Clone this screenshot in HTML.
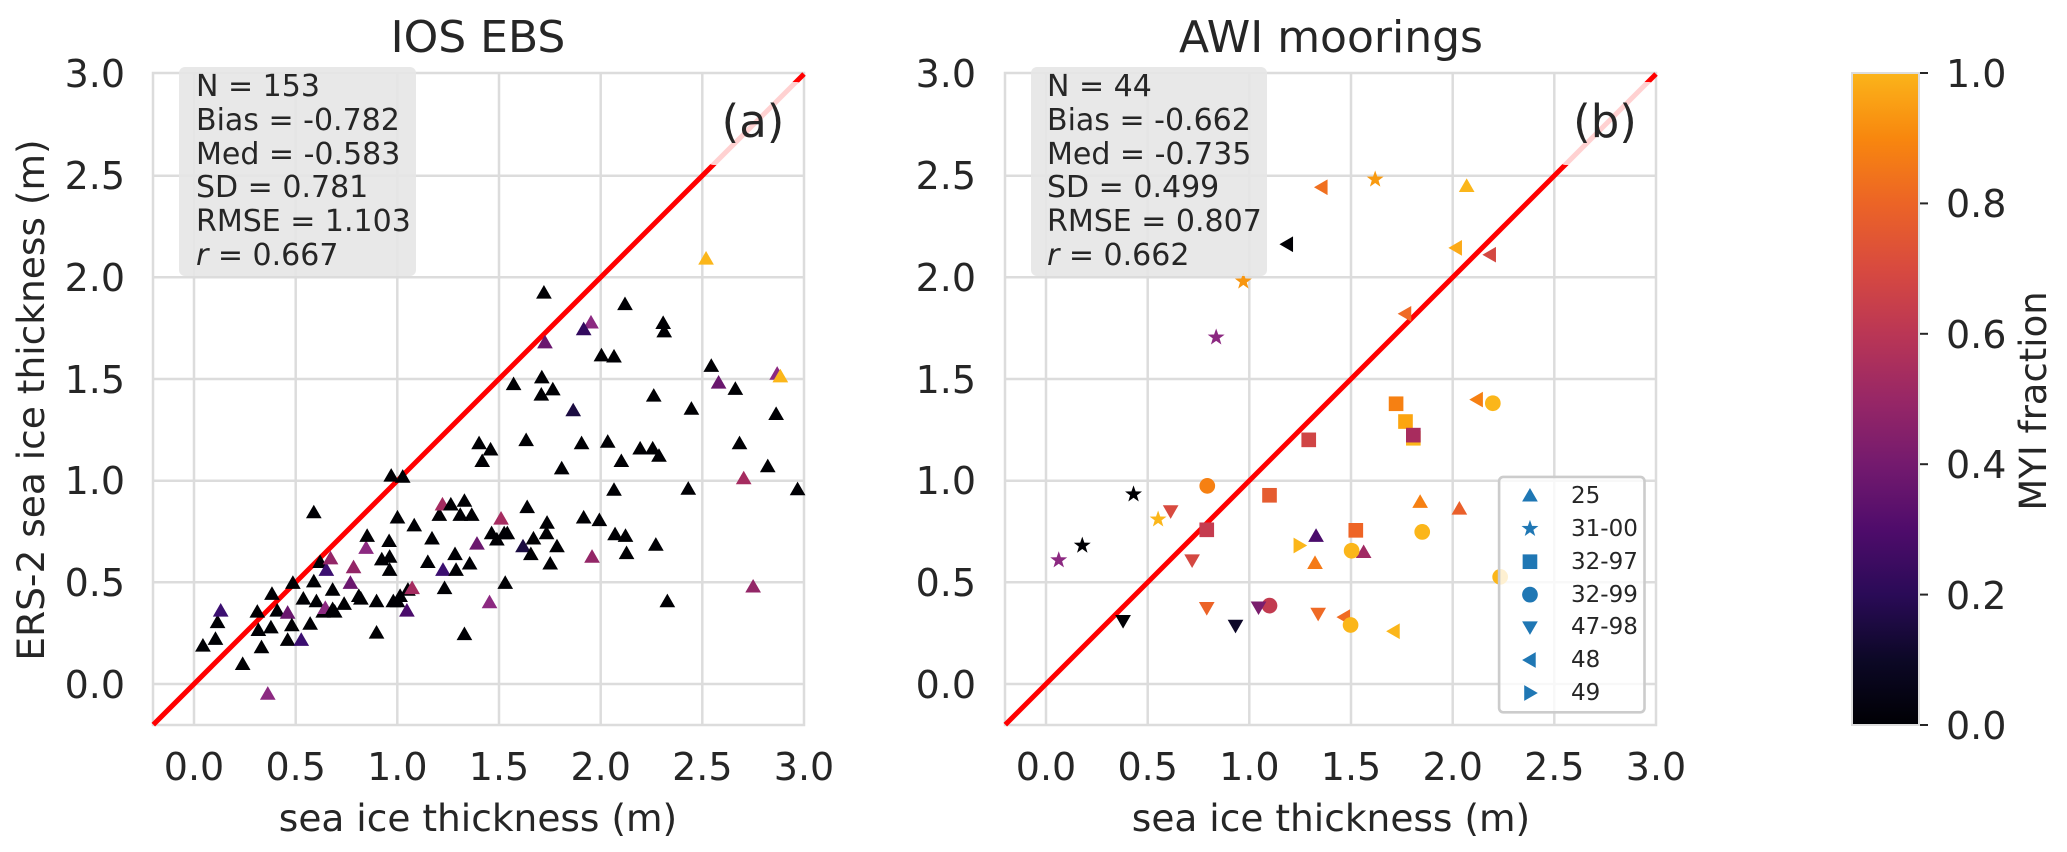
<!DOCTYPE html>
<html><head><meta charset="utf-8"><style>
html,body{margin:0;padding:0;background:#fff;}
svg{display:block;font-family:"DejaVu Sans","Liberation Sans",sans-serif;fill:#262626;}
</style></head><body>
<svg width="2067" height="852" viewBox="0 0 2067 852" xmlns="http://www.w3.org/2000/svg">
<defs>
<path id="tu" d="M0,-15 L15,11 L-15,11 Z"/>
<path id="td" d="M0,15 L15,-11 L-15,-11 Z"/>
<path id="tl" d="M-15,0 L11,-15 L11,15 Z"/>
<path id="tr" d="M15,0 L-11,-15 L-11,15 Z"/>
<rect id="sq" x="-14" y="-14" width="28" height="28"/>
<circle id="ci" r="15"/>
<path id="st" d="M0,-17 L4,-5.5 L16.2,-5.3 L6.5,2.1 L10,13.8 L0,6.8 L-10,13.8 L-6.5,2.1 L-16.2,-5.3 L-4,-5.5 Z"/>
<linearGradient id="cb" x1="0" y1="1" x2="0" y2="0">
<stop offset="0" stop-color="#000004"/><stop offset="0.1" stop-color="#0c0826"/>
<stop offset="0.2" stop-color="#2a0b57"/><stop offset="0.3" stop-color="#4f0c6b"/>
<stop offset="0.4" stop-color="#741a6e"/><stop offset="0.5" stop-color="#982766"/>
<stop offset="0.6" stop-color="#ba3655"/><stop offset="0.7" stop-color="#d84a3f"/>
<stop offset="0.8" stop-color="#ec6426"/><stop offset="0.9" stop-color="#f8870e"/>
<stop offset="1" stop-color="#fbb41a"/>
</linearGradient>
</defs>

<!-- LEFT PLOT -->
<g stroke="#dcdcdc" stroke-width="2.5">
<line x1="194" y1="73" x2="194" y2="725"/><line x1="295.7" y1="73" x2="295.7" y2="725"/><line x1="397.3" y1="73" x2="397.3" y2="725"/><line x1="499" y1="73" x2="499" y2="725"/><line x1="600.7" y1="73" x2="600.7" y2="725"/><line x1="702.3" y1="73" x2="702.3" y2="725"/>
<line x1="153" y1="684" x2="804" y2="684"/><line x1="153" y1="582.3" x2="804" y2="582.3"/><line x1="153" y1="480.7" x2="804" y2="480.7"/><line x1="153" y1="379" x2="804" y2="379"/><line x1="153" y1="277.3" x2="804" y2="277.3"/><line x1="153" y1="175.7" x2="804" y2="175.7"/>
<rect x="153" y="73" width="651" height="652" fill="none"/>
</g>
<line x1="153.3" y1="724.7" x2="804" y2="74" stroke="#ff0000" stroke-width="5"/>
<g transform="scale(0.523)" fill="#000004">
<use href="#tu" x="388" y="1235"/><use href="#tu" x="412" y="1222"/><use href="#tu" x="416" y="1190"/><use href="#tu" x="422" y="1168" fill="#3b0f70"/><use href="#tu" x="464" y="1270"/><use href="#tu" x="492" y="1170"/><use href="#tu" x="494" y="1205"/><use href="#tu" x="500" y="1238"/><use href="#tu" x="518" y="1200"/><use href="#tu" x="520" y="1136"/><use href="#tu" x="530" y="1168"/><use href="#tu" x="512" y="1327" fill="#8c2981"/><use href="#tu" x="550" y="1224"/><use href="#tu" x="550" y="1172" fill="#6a176e"/><use href="#tu" x="558" y="1196"/><use href="#tu" x="560" y="1115"/><use href="#tu" x="576" y="1224" fill="#3b0f70"/><use href="#tu" x="580" y="1145"/><use href="#tu" x="593" y="1193"/><use href="#tu" x="600" y="1112"/><use href="#tu" x="600" y="980"/><use href="#tu" x="605" y="1150"/><use href="#tu" x="612" y="1075"/><use href="#tu" x="618" y="1170"/><use href="#tu" x="622" y="1163" fill="#8c2981"/><use href="#tu" x="624" y="1090" fill="#3b0f70"/><use href="#tu" x="632" y="1068" fill="#932667"/><use href="#tu" x="636" y="1165"/><use href="#tu" x="636" y="1128"/><use href="#tu" x="640" y="1170"/><use href="#tu" x="658" y="1155"/><use href="#tu" x="670" y="1115" fill="#6a176e"/><use href="#tu" x="676" y="1085" fill="#932667"/><use href="#tu" x="686" y="1140"/><use href="#tu" x="690" y="1145"/><use href="#tu" x="700" y="1048" fill="#8c2981"/><use href="#tu" x="702" y="1025"/><use href="#tu" x="720" y="1150"/><use href="#tu" x="720" y="1210"/><use href="#tu" x="730" y="1070"/><use href="#tu" x="744" y="1035"/><use href="#tu" x="745" y="1065"/><use href="#tu" x="745" y="1090"/><use href="#tu" x="752" y="1150"/><use href="#tu" x="760" y="1150"/><use href="#tu" x="765" y="1140"/><use href="#tu" x="748" y="910"/><use href="#tu" x="770" y="912"/><use href="#tu" x="760" y="990"/><use href="#tu" x="780" y="1128"/><use href="#tu" x="788" y="1125" fill="#a52c60"/><use href="#tu" x="778" y="1168" fill="#4a0c6b"/><use href="#tu" x="792" y="1005"/><use href="#tu" x="818" y="1075"/><use href="#tu" x="826" y="1030"/><use href="#tu" x="840" y="985"/><use href="#tu" x="846" y="965" fill="#a52c60"/><use href="#tu" x="847" y="1090" fill="#3b0f70"/><use href="#tu" x="850" y="1125"/><use href="#tu" x="862" y="965"/><use href="#tu" x="870" y="1060"/><use href="#tu" x="872" y="1090"/><use href="#tu" x="880" y="985"/><use href="#tu" x="888" y="958"/><use href="#tu" x="888" y="1213"/><use href="#tu" x="898" y="1078"/><use href="#tu" x="902" y="985"/><use href="#tu" x="912" y="1040" fill="#6a176e"/><use href="#tu" x="916" y="848"/><use href="#tu" x="922" y="882"/><use href="#tu" x="938" y="860"/><use href="#tu" x="936" y="1152" fill="#8c2981"/><use href="#tu" x="940" y="1020"/><use href="#tu" x="950" y="1032"/><use href="#tu" x="958" y="992" fill="#a52c60"/><use href="#tu" x="964" y="1020"/><use href="#tu" x="966" y="1115"/><use href="#tu" x="970" y="1020"/><use href="#tu" x="982" y="735"/><use href="#tu" x="1000" y="1045" fill="#1b0c41"/><use href="#tu" x="1006" y="842"/><use href="#tu" x="1008" y="970"/><use href="#tu" x="1015" y="1060"/><use href="#tu" x="1020" y="1030"/><use href="#tu" x="1036" y="722"/><use href="#tu" x="1040" y="560"/><use href="#tu" x="1042" y="655" fill="#6a176e"/><use href="#tu" x="1035" y="755"/><use href="#tu" x="1045" y="1020"/><use href="#tu" x="1046" y="1000"/><use href="#tu" x="1052" y="1078"/><use href="#tu" x="1057" y="745"/><use href="#tu" x="1065" y="1045"/><use href="#tu" x="1074" y="896"/><use href="#tu" x="1096" y="785" fill="#1b0c41"/><use href="#tu" x="1112" y="848"/><use href="#tu" x="1116" y="990"/><use href="#tu" x="1130" y="617" fill="#8c2981"/><use href="#tu" x="1116" y="630" fill="#320a5e"/><use href="#tu" x="1132" y="1065" fill="#932667"/><use href="#tu" x="1146" y="995"/><use href="#tu" x="1150" y="680"/><use href="#tu" x="1162" y="845"/><use href="#tu" x="1174" y="682"/><use href="#tu" x="1174" y="937"/><use href="#tu" x="1176" y="1022"/><use href="#tu" x="1188" y="882"/><use href="#tu" x="1195" y="582"/><use href="#tu" x="1196" y="1025"/><use href="#tu" x="1198" y="1058"/><use href="#tu" x="1224" y="858"/><use href="#tu" x="1250" y="757"/><use href="#tu" x="1248" y="858"/><use href="#tu" x="1254" y="1042"/><use href="#tu" x="1260" y="872"/><use href="#tu" x="1268" y="618"/><use href="#tu" x="1270" y="634"/><use href="#tu" x="1276" y="1150"/><use href="#tu" x="1316" y="935"/><use href="#tu" x="1322" y="782"/><use href="#tu" x="1350" y="495" fill="#fbb61a"/><use href="#tu" x="1360" y="700"/><use href="#tu" x="1374" y="732" fill="#6a176e"/><use href="#tu" x="1406" y="744"/><use href="#tu" x="1414" y="848"/><use href="#tu" x="1422" y="915" fill="#a52c60"/><use href="#tu" x="1440" y="1122" fill="#932667"/><use href="#tu" x="1468" y="892"/><use href="#tu" x="1484" y="792"/><use href="#tu" x="1486" y="715" fill="#8c2981"/><use href="#tu" x="1492" y="720" fill="#fbb61a"/><use href="#tu" x="1525" y="936"/>
</g>
<rect x="179" y="67" width="237" height="209" rx="6" fill="#e5e5e5" fill-opacity="0.9"/>
<g font-size="30" fill="#262626">
<text x="196" y="96">N = 153</text>
<text x="196" y="130">Bias = -0.782</text>
<text x="196" y="164">Med = -0.583</text>
<text x="196" y="197">SD = 0.781</text>
<text x="196" y="231">RMSE = 1.103</text>
<text x="196" y="265"><tspan font-style="italic">r</tspan> = 0.667</text>
</g>
<rect x="708" y="82" width="94" height="83" rx="5" fill="#fff" fill-opacity="0.82"/>
<text x="753" y="137" font-size="45" text-anchor="middle">(a)</text>
<text x="478" y="52" font-size="44" text-anchor="middle">IOS EBS</text>
<g font-size="38" text-anchor="end">
<text x="125" y="87">3.0</text><text x="125" y="189">2.5</text><text x="125" y="291">2.0</text><text x="125" y="393">1.5</text><text x="125" y="494">1.0</text><text x="125" y="596">0.5</text><text x="125" y="698">0.0</text>
</g>
<g font-size="38" text-anchor="middle">
<text x="194" y="780">0.0</text><text x="295.7" y="780">0.5</text><text x="397.3" y="780">1.0</text><text x="499" y="780">1.5</text><text x="600.7" y="780">2.0</text><text x="702.3" y="780">2.5</text><text x="804" y="780">3.0</text>
</g>
<text x="478" y="831" font-size="37.5" text-anchor="middle">sea ice thickness (m)</text>
<text transform="translate(44,400) rotate(-90)" font-size="37.5" text-anchor="middle">ERS-2 sea ice thickness (m)</text>

<!-- RIGHT PLOT -->
<g stroke="#dcdcdc" stroke-width="2.5">
<line x1="1046" y1="73" x2="1046" y2="725"/><line x1="1147.7" y1="73" x2="1147.7" y2="725"/><line x1="1249.3" y1="73" x2="1249.3" y2="725"/><line x1="1351" y1="73" x2="1351" y2="725"/><line x1="1452.7" y1="73" x2="1452.7" y2="725"/><line x1="1554.3" y1="73" x2="1554.3" y2="725"/>
<line x1="1005" y1="684" x2="1656" y2="684"/><line x1="1005" y1="582.3" x2="1656" y2="582.3"/><line x1="1005" y1="480.7" x2="1656" y2="480.7"/><line x1="1005" y1="379" x2="1656" y2="379"/><line x1="1005" y1="277.3" x2="1656" y2="277.3"/><line x1="1005" y1="175.7" x2="1656" y2="175.7"/>
<rect x="1005" y="73" width="651" height="652" fill="none"/>
</g>
<line x1="1005.3" y1="724.7" x2="1656" y2="74" stroke="#ff0000" stroke-width="5"/>
<g transform="translate(860,0) scale(0.523)">
<use href="#st" x="523" y="945" fill="#000004"/><use href="#st" x="425" y="1043" fill="#000004"/><use href="#st" x="380" y="1071" fill="#8c2981"/><use href="#st" x="570" y="993" fill="#fbb61a"/><use href="#st" x="681" y="645" fill="#8c2981"/><use href="#st" x="733" y="538" fill="#f8960f"/><use href="#st" x="985" y="343" fill="#f89a10"/>
<use href="#tl" x="883" y="358" fill="#f07020"/><use href="#tl" x="817" y="467" fill="#000004"/><use href="#tl" x="1140" y="474" fill="#fcaa18"/><use href="#tl" x="1205" y="487" fill="#d44842"/><use href="#tl" x="1043" y="600" fill="#ef6a25"/><use href="#tl" x="1180" y="764" fill="#f68012"/><use href="#tl" x="1021" y="1207" fill="#fbb61a"/><use href="#tl" x="926" y="1180" fill="#f06b22"/>
<use href="#tu" x="1160" y="356" fill="#fbb61a"/><use href="#tu" x="1071" y="960" fill="#f68012"/><use href="#tu" x="1146" y="973" fill="#ea5f2a"/><use href="#tu" x="872" y="1025" fill="#4a0c6b"/><use href="#tu" x="870" y="1077" fill="#f57a17"/><use href="#tu" x="963" y="1056" fill="#a02a63"/>
<use href="#sq" x="1025" y="772" fill="#f68012"/><use href="#sq" x="1043" y="806" fill="#fca50f"/><use href="#sq" x="1058" y="838" fill="#fbb61a"/><use href="#sq" x="1058" y="832" fill="#a82c5e"/><use href="#sq" x="858" y="841" fill="#d04545"/><use href="#sq" x="783" y="947" fill="#e55c30"/><use href="#sq" x="948" y="1014" fill="#ee6425"/><use href="#sq" x="663" y="1013" fill="#c53c4f"/>
<use href="#ci" x="664" y="929" fill="#f68012"/><use href="#ci" x="1210" y="771" fill="#fbb61a"/><use href="#ci" x="1075" y="1017" fill="#fbb61a"/><use href="#ci" x="940" y="1053" fill="#fbb61a"/><use href="#ci" x="938" y="1195" fill="#fbb61a"/><use href="#ci" x="783" y="1158" fill="#c23b50"/><use href="#ci" x="1224" y="1103" fill="#fbb61a"/>
<use href="#td" x="594" y="977" fill="#d84a3f"/><use href="#td" x="635" y="1071" fill="#d44842"/><use href="#td" x="663" y="1162" fill="#ec6327"/><use href="#td" x="503" y="1187" fill="#000004"/><use href="#td" x="718" y="1196" fill="#0d0829"/><use href="#td" x="762" y="1161" fill="#7a1d6d"/><use href="#td" x="876" y="1173" fill="#ef6a25"/>
<use href="#tr" x="840" y="1043" fill="#fbb61a"/>
<rect x="1222" y="912" width="278" height="450" rx="8" fill="#fff" fill-opacity="0.8" stroke="#cccccc" stroke-width="5"/>
<g fill="#1f77b4">
<use href="#tu" x="1281" y="948"/><use href="#st" x="1281" y="1011"/><use href="#sq" x="1281" y="1074"/><use href="#ci" x="1281" y="1137"/><use href="#td" x="1281" y="1199"/><use href="#tl" x="1281" y="1262"/><use href="#tr" x="1281" y="1325"/>
</g>
</g>
<g font-size="23">
<text x="1571" y="503">25</text><text x="1571" y="536">31-00</text><text x="1571" y="569">32-97</text><text x="1571" y="602">32-99</text><text x="1571" y="634">47-98</text><text x="1571" y="667">48</text><text x="1571" y="700">49</text>
</g>
<rect x="1031" y="67" width="236" height="209" rx="6" fill="#e5e5e5" fill-opacity="0.9"/>
<g font-size="30" fill="#262626">
<text x="1047" y="96">N = 44</text>
<text x="1047" y="130">Bias = -0.662</text>
<text x="1047" y="164">Med = -0.735</text>
<text x="1047" y="197">SD = 0.499</text>
<text x="1047" y="231">RMSE = 0.807</text>
<text x="1047" y="265"><tspan font-style="italic">r</tspan> = 0.662</text>
</g>
<rect x="1560" y="82" width="94" height="83" rx="5" fill="#fff" fill-opacity="0.82"/>
<text x="1605" y="137" font-size="45" text-anchor="middle">(b)</text>
<text x="1331" y="52" font-size="44" text-anchor="middle">AWI moorings</text>
<g font-size="38" text-anchor="end">
<text x="976" y="87">3.0</text><text x="976" y="189">2.5</text><text x="976" y="291">2.0</text><text x="976" y="393">1.5</text><text x="976" y="494">1.0</text><text x="976" y="596">0.5</text><text x="976" y="698">0.0</text>
</g>
<g font-size="38" text-anchor="middle">
<text x="1046" y="780">0.0</text><text x="1147.7" y="780">0.5</text><text x="1249.3" y="780">1.0</text><text x="1351" y="780">1.5</text><text x="1452.7" y="780">2.0</text><text x="1554.3" y="780">2.5</text><text x="1656" y="780">3.0</text>
</g>
<text x="1331" y="831" font-size="37.5" text-anchor="middle">sea ice thickness (m)</text>

<!-- COLORBAR -->
<rect x="1852" y="73" width="67" height="652" fill="url(#cb)" stroke="#dddddd" stroke-width="2"/>
<g stroke="#262626" stroke-width="2">
<line x1="1920" y1="73" x2="1928" y2="73"/><line x1="1920" y1="203.4" x2="1928" y2="203.4"/><line x1="1920" y1="333.8" x2="1928" y2="333.8"/><line x1="1920" y1="464.2" x2="1928" y2="464.2"/><line x1="1920" y1="594.6" x2="1928" y2="594.6"/><line x1="1920" y1="725" x2="1928" y2="725"/>
</g>
<g font-size="38">
<text x="1946" y="87">1.0</text><text x="1946" y="217">0.8</text><text x="1946" y="348">0.6</text><text x="1946" y="478">0.4</text><text x="1946" y="609">0.2</text><text x="1946" y="739">0.0</text>
</g>
<text transform="translate(2046,401) rotate(-90)" font-size="37" text-anchor="middle">MYI fraction</text>
</svg>
</body></html>
